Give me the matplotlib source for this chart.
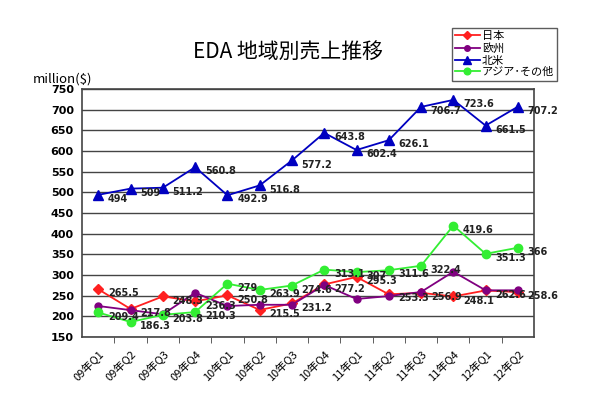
import numpy as np
import matplotlib
matplotlib.use("Agg")
import matplotlib.pyplot as plt

plt.rcParams['font.family'] = ['Noto Sans CJK JP', 'DejaVu Sans']

quarters = ["09年Q1", "09年Q2", "09年Q3", "09年Q4", "10年Q1", "10年Q2", "10年Q3",
            "10年Q4", "11年Q1", "11年Q2", "11年Q3", "11年Q4", "12年Q1", "12年Q2"]
japan = [265.5, 217.8, 248.3, 236.3, 250.8, 215.5, 231.2, 277.2, 295.3, 253.3, 256.9, 248.1, 262.6, 258.6]
europe = [225, 215, 205, 257, 225, 228, 228, 276, 242, 249, 259, 308, 263, 263]
namerica = [494, 509, 511.2, 560.8, 492.9, 516.8, 577.2, 643.8, 602.4, 626.1, 706.7, 723.6, 661.5, 707.2]
asia = [209.4, 186.3, 203.8, 210.3, 279, 263.9, 274.6, 313.1, 307, 311.6, 322.4, 419.6, 351.3, 366]

fig = plt.figure(figsize=(6, 4.12), dpi=100)
ax = fig.add_axes([0.137, 0.182, 0.753, 0.602])
x = np.arange(len(quarters))

ax.plot(x, japan, color='#ff2020', marker='D', ms=5, lw=1.3, label='日本', zorder=3)
ax.plot(x, europe, color='#800080', marker='o', ms=5, lw=1.3, label='欧州', zorder=3)
ax.plot(x, namerica, color='#0000c0', marker='^', ms=6.5, lw=1.3, label='北米', zorder=3)
ax.plot(x, asia, color='#33ee33', marker='o', ms=6, lw=1.3, label='アジア･その他', zorder=3)

def fmt(v):
    return ('%.1f' % v).rstrip('0').rstrip('.')

for series in (japan, namerica, asia):
    for xi, v in zip(x, series):
        ax.annotate(fmt(v), (xi, v), xytext=(7, -3), textcoords='offset points',
                    fontsize=7, fontweight='bold', family='DejaVu Sans', color='#222222',
                    va='center', ha='left', zorder=4)

ax.set_xlim(-0.5, len(quarters) - 0.5)
ax.set_ylim(150, 750)
ax.set_yticks(np.arange(150, 751, 50))
ax.yaxis.grid(True, color='#444444', lw=1)
ax.set_axisbelow(True)
ax.tick_params(axis='y', length=0, labelsize=8, pad=6)
for t in ax.get_yticklabels():
    t.set_fontweight('bold')
    t.set_family('DejaVu Sans')

ax.set_xticks(x)
ax.set_xticklabels(quarters, rotation=45, ha='right', rotation_mode='anchor', fontsize=8)
ax.set_xticks(np.arange(0.5, len(quarters) - 0.5), minor=True)
ax.tick_params(axis='x', which='major', length=0, pad=8)
ax.tick_params(axis='x', which='minor', length=4, direction='out', color='#444444')
for s in ax.spines.values():
    s.set_color('#444444')
    s.set_linewidth(1.2)

fig.text(0.48, 0.875, 'EDA 地域別売上推移', ha='center', va='center', fontsize=15)
fig.text(0.055, 0.808, 'million($)', ha='left', va='center', fontsize=9.5)

leg = ax.legend(loc='upper left', bbox_to_anchor=(0.753, 0.932), bbox_transform=fig.transFigure,
                fontsize=8, frameon=True, fancybox=False, edgecolor='#333333',
                borderpad=0.3, labelspacing=0.15, handlelength=2.2, handletextpad=0.2,
                markerscale=0.8, borderaxespad=0)
leg.get_frame().set_linewidth(1)

fig.savefig('out.png', dpi=100)
plt.close(fig)
